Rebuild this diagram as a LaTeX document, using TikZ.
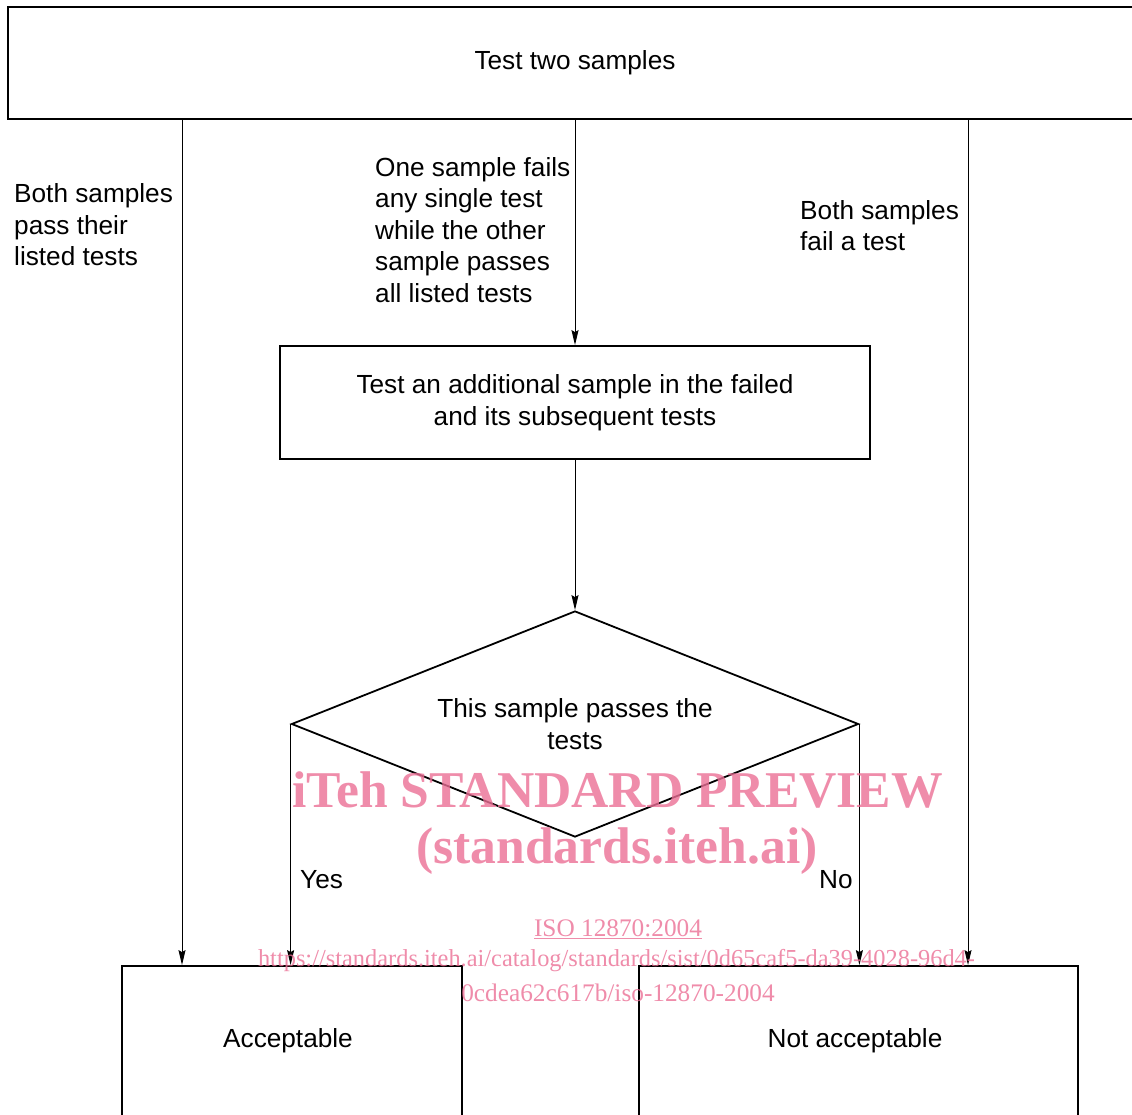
\documentclass[tikz,border=0pt]{standalone}
\usepackage{fontspec}
\setmainfont{Liberation Sans}
\newfontfamily\wmfont{Liberation Serif}
\usetikzlibrary{shapes.geometric,arrows.meta}
\definecolor{wmpink}{RGB}{235,111,149}
\begin{document}
\begin{tikzpicture}[x=1pt,y=-1pt,
  every node/.style={font=\fontsize{26.2}{31.5}\selectfont, inner sep=0pt},
  box/.style={draw, line width=1.8pt, rectangle, align=center},
  decision/.style={draw, line width=1.8pt, diamond, align=center, shape aspect=2.509},
  arr/.style={line width=1pt, -{Stealth[length=15pt,width=7pt,inset=2pt]}},
  lbl/.style={align=left, anchor=west},
  wm/.style={text=wmpink, text opacity=0.8, align=center}
]
\useasboundingbox (0,0) rectangle (1132,1115);
% boxes
\node[box, minimum width=1134pt, minimum height=112pt] (top) at (575,63) {\raisebox{-1pt}{Test two samples}};
\node[box, minimum width=590pt, minimum height=113pt] (mid) at (575,402.5) {Test an additional sample in the failed\\and its subsequent tests};
\node[decision, minimum width=567pt, minimum height=226pt] (dia) at (575,724) {This sample passes the\\tests};
\node[box, minimum width=340pt, minimum height=150pt] (acc) at (292,1041) {\hspace*{-8pt}Acceptable};
\node[box, minimum width=439pt, minimum height=150pt] (nacc) at (858.5,1041) {\hspace*{-7pt}Not acceptable};
% x positions of the outer connectors
\coordinate (xL) at (182,0);
\coordinate (xR) at (968,0);
% connectors
\draw[arr] (top.south -| xL) -- (acc.north -| xL);
\draw[arr] (top.south) -- (mid.north);
\draw[arr] (top.south -| xR) -- (nacc.north -| xR);
\draw[arr] (mid.south) -- (dia.north);
\draw[arr] (dia.west) -- (acc.north -| dia.west);
\draw[arr] (dia.east) -- (nacc.north -| dia.east);
% labels
\node[lbl] (lpass) at (14,225) {Both samples\\pass their\\listed tests};
\node[lbl] (lone) at (375,230) {One sample fails\\any single test\\while the other\\sample passes\\all listed tests};
\node[lbl] (lfail) at (800,225.5) {Both samples\\fail a test};
\node[lbl] (lyes) at (300,880) {Yes};
\node[lbl] (lno) at (819,880) {No};
% watermark
\node[wm, font=\wmfont\bfseries\fontsize{51.6}{58}\selectfont] (wm1) at (617.5,790) {iTeh STANDARD PREVIEW};
\node[wm, font=\wmfont\bfseries\fontsize{51.6}{58}\selectfont] (wm2) at (617,851) {(standards.iteh.ai)};
\node[wm, font=\wmfont\fontsize{25.3}{32}\selectfont] (wm3) at (618,929) {\underline{ISO 12870:2004}};
\node[wm, font=\wmfont\fontsize{24.4}{32}\selectfont] (wm4) at (616.5,961) {https://standards.iteh.ai/catalog/standards/sist/0d65caf5-da39-4028-96d4-};
\node[wm, font=\wmfont\fontsize{25.3}{32}\selectfont] (wm5) at (618,993) {0cdea62c617b/iso-12870-2004};
\end{tikzpicture}
\end{document}
